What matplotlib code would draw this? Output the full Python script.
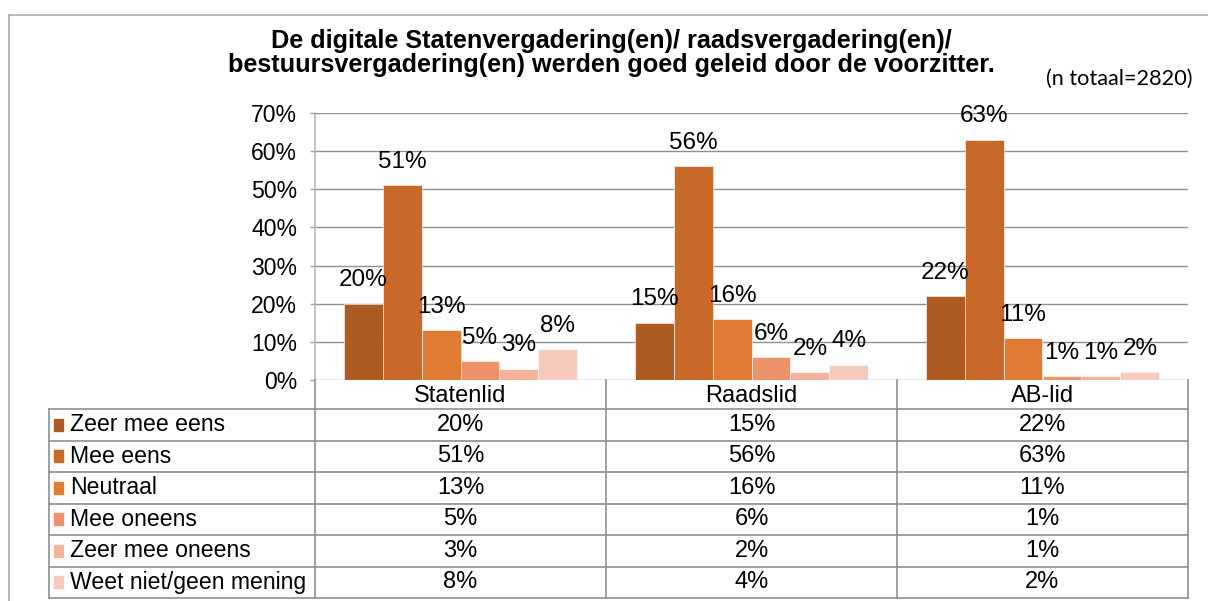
import matplotlib
matplotlib.use("Agg")
import matplotlib.pyplot as plt
import numpy as np
from matplotlib.patches import Rectangle
from matplotlib.lines import Line2D

plt.rcParams["font.family"] = ["Liberation Sans", "DejaVu Sans"]

# data
groups = ["Statenlid", "Raadslid", "AB-lid"]
answers = ["Zeer mee eens", "Mee eens", "Neutraal", "Mee oneens",
           "Zeer mee oneens", "Weet niet/geen mening"]
zeer_mee_eens = [20, 15, 22]
mee_eens = [51, 56, 63]
neutraal = [13, 16, 11]
mee_oneens = [5, 6, 1]
zeer_mee_oneens = [3, 2, 1]
weet_niet = [8, 4, 2]
series = [zeer_mee_eens, mee_eens, neutraal, mee_oneens, zeer_mee_oneens, weet_niet]
colors = ["#AD5B23", "#C8692A", "#E17A33", "#EE926A", "#F2B29B", "#F6CBBD"]
title = ("De digitale Statenvergadering(en)/ raadsvergadering(en)/\n"
         "bestuursvergadering(en) werden goed geleid door de voorzitter.")
n_note = "(n totaal=2820)"

W, H = 1208, 601
fig = plt.figure(figsize=(W / 100, H / 100), dpi=100)

def fx(px):
    return px / W

def fy(py):
    return 1 - py / H

# outer frame of the chart
fig.add_artist(Line2D([fx(9), 1.0], [fy(15), fy(15)], color="#ababab", lw=1.2))
fig.add_artist(Line2D([fx(9), fx(9)], [fy(15), 0.0], color="#ababab", lw=1.2))

fig.text(fx(611), fy(53), title, ha="center", va="center", fontsize=18.2,
         fontweight="bold", linespacing=0.98)
fig.text(fx(1193), fy(79), n_note, ha="right", va="center", fontsize=15.6,
         family=["Lato", "DejaVu Sans"])

# plot area
x_left, x_right, y_top, y_bot = 315, 1188, 113, 380
ax = fig.add_axes([fx(x_left), fy(y_bot), fx(x_right - x_left), (y_bot - y_top) / H])
ax.set_xlim(0, len(groups))
ax.set_ylim(0, 70)

bw = 0.134
off = (1 - bw * len(series)) / 2
x = np.arange(len(groups))
for i, (vals, col) in enumerate(zip(series, colors)):
    pos = x + off + (i + 0.5) * bw
    ax.bar(pos, vals, width=bw, color=col, edgecolor="white", linewidth=0.4, zorder=3)
    for p, v in zip(pos, vals):
        ax.annotate("{}%".format(v), (p, v), xytext=(0, 12.5), textcoords="offset points",
                    ha="center", va="baseline", fontsize=17.5, zorder=4)

ax.set_yticks(range(0, 71, 10))
ax.set_yticklabels(["{}%".format(t) for t in range(0, 71, 10)], fontsize=16.6)
ax.set_xticks([])
ax.yaxis.grid(True, color="#909090", linewidth=1.0, zorder=0)
ax.tick_params(axis="y", length=3.8, width=1, color="#a0a0a0", pad=9)
for s in ["top", "right", "bottom"]:
    ax.spines[s].set_visible(False)
ax.spines["left"].set_color("#b8b8b8")
ax.spines["left"].set_linewidth(1.2)
ax.set_facecolor("none")

# data table under the chart
t_left, t_top, t_bot = 49, 380, 598
head_bot = 409
col_w = (x_right - x_left) / len(groups)
row_h = (t_bot - head_bot) / len(answers)
tab = fig.add_axes([fx(t_left), fy(t_bot), fx(x_right - t_left), (t_bot - t_top) / H])
tab.set_xlim(t_left, x_right)
tab.set_ylim(t_bot, t_top)
tab.axis("off")

lc = "#8f8f8f"
for k in range(len(groups) + 1):
    xv = x_left + k * col_w
    tab.plot([xv, xv], [t_top, t_bot], color=lc, lw=1.2, clip_on=False)
tab.plot([t_left, t_left], [head_bot, t_bot], color=lc, lw=1.2, clip_on=False)
for r in range(len(answers) + 1):
    yv = head_bot + r * row_h
    tab.plot([t_left, x_right], [yv, yv], color=lc, lw=1.2, clip_on=False)

for k, g in enumerate(groups):
    tab.text(x_left + (k + 0.5) * col_w, (t_top + head_bot) / 2 + 1, g,
             ha="center", va="center", fontsize=17)

for r, (name, vals, col) in enumerate(zip(answers, series, colors)):
    yc = head_bot + (r + 0.5) * row_h
    tab.add_patch(Rectangle((54, yc - 6), 9, 12, color=col, clip_on=False))
    tab.text(70, yc, name, ha="left", va="center", fontsize=16.6)
    for k, v in enumerate(vals):
        tab.text(x_left + (k + 0.5) * col_w, yc, "{}%".format(v),
                 ha="center", va="center", fontsize=17)

fig.savefig("out.png", dpi=100)
